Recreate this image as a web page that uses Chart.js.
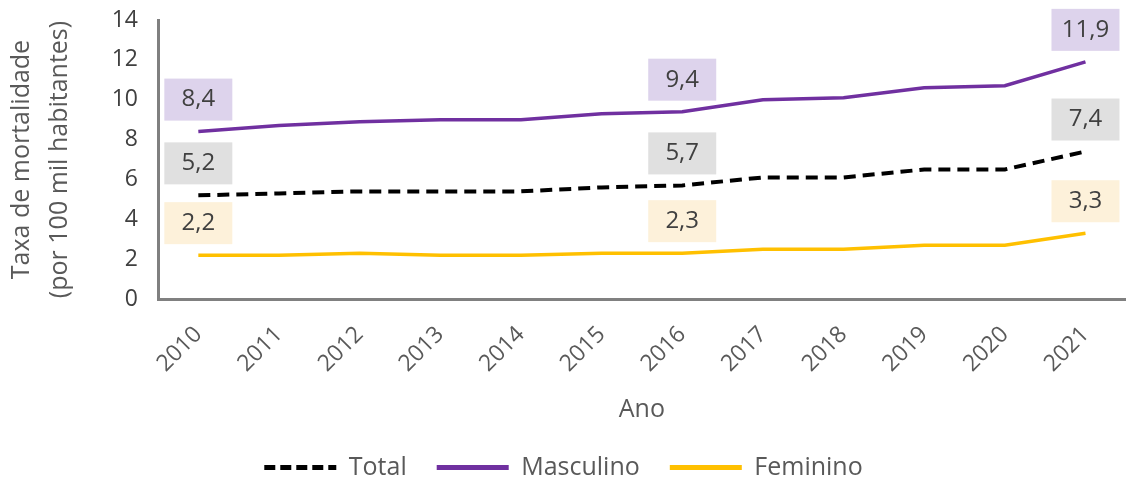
<!DOCTYPE html>
<html>
<head>
<meta charset="utf-8">
<script src="https://cdn.jsdelivr.net/npm/chart.js@4.4.1/dist/chart.umd.min.js"></script>
<style>
  html, body { margin: 0; padding: 0; background: #fff; }
  #wrap { width: 1127px; height: 483px; }
</style>
</head>
<body>
<div id="wrap"><canvas id="myChart" width="1127" height="483"></canvas></div>
<script>
// anos (eixo x)
const anos = ["2010", "2011", "2012", "2013", "2014", "2015", "2016", "2017", "2018", "2019", "2020", "2021"];
// taxas por 100 mil habitantes
const total = [5.2, 5.3, 5.4, 5.4, 5.4, 5.6, 5.7, 6.1, 6.1, 6.5, 6.5, 7.4];
const masculino = [8.4, 8.7, 8.9, 9.0, 9.0, 9.3, 9.4, 10.0, 10.1, 10.6, 10.7, 11.9];
const feminino = [2.2, 2.2, 2.3, 2.2, 2.2, 2.3, 2.3, 2.5, 2.5, 2.7, 2.7, 3.3];
// anos que recebem caixa de rótulo
const anosRotulados = ["2010", "2016", "2021"];
const yTicks = [0, 2, 4, 6, 8, 10, 12, 14];

Chart.defaults.font.family = "'Open Sans', sans-serif";
Chart.defaults.color = "#595959";

// caixinhas com o valor acima da linha
const boxLabels = {
  id: "boxLabels",
  afterDatasetsDraw(chart) {
    const ctx = chart.ctx;
    chart.data.datasets.forEach((ds, di) => {
      const meta = chart.getDatasetMeta(di);
      anosRotulados.forEach((ano) => {
        const i = chart.data.labels.indexOf(ano);
        const pt = meta.data[i];
        const w = 68, h = 42;
        const bottom = pt.y - 11;
        ctx.save();
        ctx.fillStyle = ds.boxColor;
        ctx.fillRect(pt.x - w / 2, bottom - h, w, h);
        ctx.fillStyle = "#404040";
        ctx.font = "24px 'Open Sans', sans-serif";
        ctx.textAlign = "center";
        ctx.textBaseline = "middle";
        ctx.fillText(ds.data[i].toFixed(1).replace(".", ","), pt.x, bottom - h / 2);
        ctx.restore();
      });
    });
  },
};

new Chart(document.getElementById("myChart"), {
  type: "line",
  data: {
    labels: anos,
    datasets: [
      {
        label: "Total",
        data: total,
        borderColor: "#000000",
        backgroundColor: "#000000",
        borderWidth: 4,
        borderDash: [12, 7],
        legendDash: [11, 5],
        boxColor: "#e0e0e0",
      },
      {
        label: "Masculino",
        data: masculino,
        borderColor: "#7030a0",
        backgroundColor: "#7030a0",
        borderWidth: 3.5,
        boxColor: "#ddd3ec",
      },
      {
        label: "Feminino",
        data: feminino,
        borderColor: "#ffc000",
        backgroundColor: "#ffc000",
        borderWidth: 3.5,
        boxColor: "#fdf1da",
      },
    ],
  },
  options: {
    responsive: false,
    animation: false,
    devicePixelRatio: 1,
    layout: { padding: { left: 0, right: 0, top: 0, bottom: -7 } },
    elements: { point: { radius: 0, hoverRadius: 0 }, line: { tension: 0 } },
    plugins: {
      tooltip: { enabled: false },
      legend: {
        position: "bottom",
        labels: {
          usePointStyle: true,
          pointStyle: "line",
          pointStyleWidth: 72,
          padding: 30,
          font: { size: 25 },
          color: "#595959",
          generateLabels(chart) {
            const items = Chart.defaults.plugins.legend.labels.generateLabels(chart);
            items.forEach((it) => {
              const ds = chart.data.datasets[it.datasetIndex];
              it.pointStyle = "line";
              it.strokeStyle = ds.borderColor;
              it.lineWidth = 5;
              it.lineDash = ds.legendDash || [];
              it.lineCap = "butt";
            });
            return items;
          },
        },
      },
    },
    scales: {
      x: {
        offset: true,
        grid: { display: false, drawTicks: false },
        border: { display: true, color: "#808080", width: 3 },
        ticks: { minRotation: 45, maxRotation: 45, padding: 22, font: { size: 23 }, color: "#595959" },
        title: { display: true, text: "Ano", font: { size: 25 }, color: "#595959", padding: { top: 0, bottom: 0 } },
        afterFit(scale) { scale.height = 126; },
      },
      y: {
        min: 0,
        max: 14,
        afterBuildTicks(scale) { scale.ticks = yTicks.map((v) => ({ value: v })); },
        grid: { display: false, drawTicks: false },
        border: { display: true, color: "#808080", width: 3 },
        ticks: { padding: 20, font: { size: 23 }, color: "#404040" },
        title: {
          display: true,
          text: ["Taxa de mortalidade", "(por 100 mil habitantes)"],
          font: { size: 25, lineHeight: 1.52 },
          color: "#595959",
          padding: { top: 3, bottom: 0 },
        },
        afterFit(scale) {
          scale.width = 158;
          scale.paddingTop = 20;
          scale.paddingBottom = 0;
        },
      },
    },
  },
  plugins: [boxLabels],
});
</script>
</body>
</html>
